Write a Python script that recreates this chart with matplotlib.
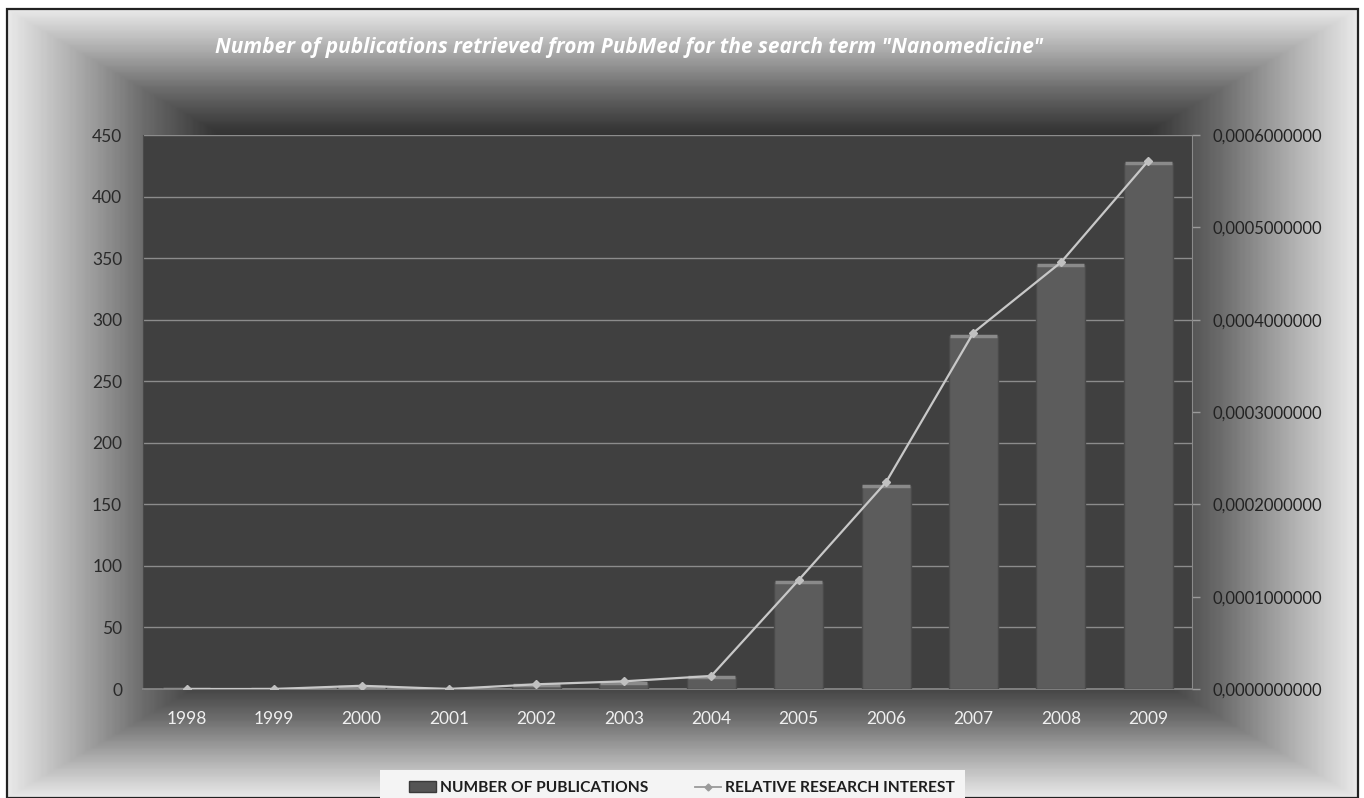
import numpy as np
import matplotlib
matplotlib.use('Agg')
import matplotlib.pyplot as plt
import matplotlib.patches as mpatches
from matplotlib.lines import Line2D
from matplotlib.colors import LinearSegmentedColormap
from matplotlib.ticker import FuncFormatter, MultipleLocator

plt.rcParams['font.family'] = ['Lato', 'DejaVu Sans']

# data
years = ['1998', '1999', '2000', '2001', '2002', '2003', '2004',
         '2005', '2006', '2007', '2008', '2009']
publications = [0, 0, 2, 0, 3, 5, 10, 87, 165, 287, 344, 427]
relative_interest = [0.0000000, 0.0000000, 0.0000035, 0.0000000, 0.0000051,
                     0.0000083, 0.0000141, 0.000118, 0.000224, 0.000386,
                     0.000462, 0.000572]

title = 'Number of publications retrieved from PubMed for the search term "Nanomedicine"'
bar_label = 'NUMBER OF PUBLICATIONS'
line_label = 'RELATIVE RESEARCH INTEREST'

W, H = 1364, 798
fig = plt.figure(figsize=(W / 100, H / 100), dpi=100)
fig.patch.set_facecolor('white')

# ---- background: rectangular gradient, light edges -> dark centre ----
fl, fr, ft, fb = 7, 1358, 9, 798
ax_bg = fig.add_axes([fl / W, 1 - fb / H, (fr - fl) / W, (fb - ft) / H])
ax_bg.set_axis_off()
ny, nx = 400, 700
yy, xx = np.mgrid[-1:1:ny * 1j, -1:1:nx * 1j]
d = np.maximum(np.abs(xx), np.abs(yy))
bg_cmap = LinearSegmentedColormap.from_list(
    'bg', [(0.0, '#232323'), (0.62, '#252525'), (0.7, '#383838'),
           (0.8, '#6c6c6c'), (0.9, '#acacac'), (1.0, '#e8e8e8')])
ax_bg.imshow(d, cmap=bg_cmap, vmin=0, vmax=1, aspect='auto',
             extent=[0, 1, 0, 1], interpolation='bilinear')
ax_bg.set_xlim(0, 1)
ax_bg.set_ylim(0, 1)
ax_bg.add_patch(mpatches.Rectangle((0, 0), 1, 1, transform=ax_bg.transAxes,
                                   fill=False, edgecolor='#222222', lw=1.6,
                                   clip_on=False))

# ---- main plot area ----
pl, pr, pt, pb = 143, 1192, 135, 689
ax = fig.add_axes([pl / W, 1 - pb / H, (pr - pl) / W, (pb - pt) / H])
ax.set_facecolor('#404040')

x = np.arange(len(years))
ax.bar(x, publications, width=0.56, color='#5c5c5c',
       edgecolor='#4a4a4a', linewidth=1.0, zorder=3)
# light bevel on bar tops
ax.hlines(publications, x - 0.27, x + 0.27, colors='#8a8a8a', lw=2.5, zorder=4)

ax.set_xlim(-0.5, len(years) - 0.5)
ax.set_ylim(0, 450)
ax.yaxis.set_major_locator(MultipleLocator(50))
ax.set_xticks(x)
ax.set_xticklabels(years)
ax.yaxis.grid(True, color='#8c8c8c', lw=1.0, zorder=0)
ax.set_axisbelow(True)
ax.tick_params(axis='x', length=0, pad=16, labelsize=12.5, labelcolor='#f0f0f0')
ax.tick_params(axis='y', length=0, pad=15, labelsize=12.5, labelcolor='#2a2a2a')
for s in ['top', 'right']:
    ax.spines[s].set_visible(False)
ax.spines['left'].set_color('#4a4a4a')
ax.spines['bottom'].set_color('#8a8a8a')
ax.spines['bottom'].set_linewidth(1.2)

ax2 = ax.twinx()
ax2.plot(x, relative_interest, color='#c8c8c8', lw=1.6, marker='D',
         markersize=4, markerfacecolor='#c0c0c0', markeredgecolor='#c0c0c0',
         zorder=5)
ax2.set_ylim(0, 0.0006)
ax2.yaxis.set_major_locator(MultipleLocator(0.0001))
ax2.yaxis.set_major_formatter(FuncFormatter(lambda v, p: f'{v:.10f}'.replace('.', ',')))
ax2.tick_params(axis='y', length=6, width=1, color='#9a9a9a', pad=9,
                labelsize=12, labelcolor='#222222')
for s in ['top', 'left', 'bottom']:
    ax2.spines[s].set_visible(False)
ax2.spines['right'].set_color('#8a8a8a')

# title
fig.text(629 / W, 1 - 47 / H, title, ha='center', va='center', color='white',
         fontsize=15, fontweight='bold', fontstyle='italic',
         family=['Open Sans', 'Lato', 'DejaVu Sans'])

# legend: light box cut off by the bottom edge
fig.patches.append(mpatches.Rectangle((380 / W, 0), (965 - 380) / W, (H - 770) / H,
                                      transform=fig.transFigure, facecolor='#f4f4f4',
                                      edgecolor='none', zorder=5))
handles = [mpatches.Patch(facecolor='#555555', edgecolor='#3a3a3a', label=bar_label),
           Line2D([0], [0], color='#9a9a9a', lw=1.3, marker='D', markersize=3.5,
                  markerfacecolor='#9a9a9a', label=line_label)]
leg = fig.legend(handles=handles, loc='center',
                 bbox_to_anchor=(682 / W, 1 - 788 / H), ncol=2, frameon=False,
                 columnspacing=3.0, handlelength=1.7, handletextpad=0.25,
                 prop={'weight': 'bold', 'size': 11.2})
leg.set_zorder(6)
for t in leg.get_texts():
    t.set_color('#1e1e1e')

fig.savefig('out.png', dpi=100)
